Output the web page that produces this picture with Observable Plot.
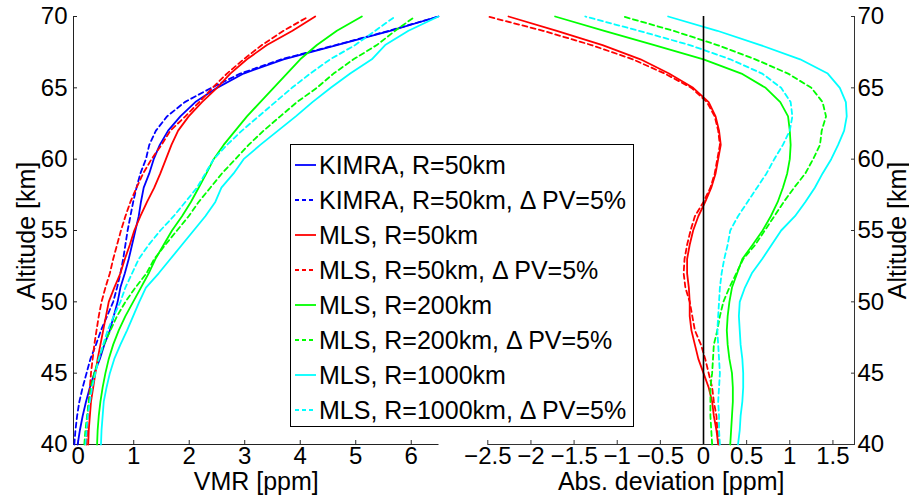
<!DOCTYPE html>
<html><head><meta charset="utf-8">
<script src="https://cdn.jsdelivr.net/npm/d3@7"></script>
<script src="https://cdn.jsdelivr.net/npm/@observablehq/plot@0.6"></script>
<style>
html,body{margin:0;padding:0;background:#fff;}
#wrap{position:relative;width:909px;height:499px;overflow:hidden;font-family:"Liberation Sans",Arial,Helvetica,sans-serif;}
#left,#right{position:absolute;top:0;}
#left{left:0;}
#right{left:460px;}
svg{overflow:visible;}
#legend{position:absolute;left:290px;top:144px;width:342px;height:281px;border:1px solid #000;background:#fff;box-sizing:content-box;}
.row{position:absolute;left:0;height:35px;display:flex;align-items:center;white-space:nowrap;font-size:25px;color:#000;}
.row svg{margin-left:4px;margin-right:3px;}
</style></head>
<body><div id="wrap"><div id="left"></div><div id="right"></div><div id="legend"></div></div>
<script>
// ---- data ----
const altitude = [40,41,42,43,44,45,46,47,48,49,50,51,52,53,54,55,56,57,58,59,60,61,62,63,64,65,66,67,68,69,70];

// VMR [ppm] (left panel)
const kimra50     = [-0.01,0.03,0.08,0.14,0.21,0.29,0.39,0.47,0.57,0.64,0.71,0.76,0.84,0.91,0.97,1.03,1.09,1.13,1.18,1.28,1.36,1.47,1.62,1.84,2.11,2.50,2.98,3.70,4.66,5.62,6.49];
const kimra50PV   = [-0.07,-0.05,-0.02,0.02,0.08,0.15,0.22,0.32,0.41,0.52,0.63,0.70,0.76,0.81,0.85,0.89,0.94,0.99,1.05,1.12,1.22,1.28,1.40,1.60,1.92,2.40,2.92,3.66,4.64,5.60,6.49];
const mls50       = [0.18,0.19,0.21,0.23,0.27,0.31,0.35,0.40,0.45,0.50,0.55,0.65,0.76,0.84,0.93,1.01,1.12,1.24,1.37,1.48,1.58,1.68,1.80,1.99,2.23,2.50,2.74,3.04,3.40,3.86,4.27];
const mls50PV     = [0.15,0.16,0.17,0.19,0.21,0.23,0.26,0.29,0.33,0.37,0.42,0.49,0.57,0.63,0.70,0.77,0.85,0.94,1.05,1.17,1.32,1.50,1.66,1.93,2.18,2.42,2.68,2.98,3.31,3.70,4.15];
const mls200      = [0.34,0.35,0.37,0.40,0.44,0.49,0.55,0.63,0.73,0.85,0.99,1.13,1.27,1.39,1.54,1.69,1.87,2.03,2.17,2.31,2.44,2.62,2.83,3.04,3.28,3.52,3.76,4.00,4.30,4.66,5.11];
const mls200PV    = [0.11,0.13,0.16,0.19,0.23,0.29,0.37,0.46,0.58,0.70,0.85,1.03,1.23,1.37,1.57,1.78,1.99,2.17,2.38,2.59,2.83,3.07,3.34,3.64,3.94,4.30,4.60,4.96,5.38,5.71,6.07];
const mls1000     = [0.41,0.42,0.44,0.46,0.51,0.57,0.65,0.76,0.88,0.99,1.10,1.22,1.45,1.66,1.87,2.08,2.29,2.47,2.58,2.80,2.98,3.28,3.60,3.92,4.22,4.55,4.90,5.29,5.53,5.95,6.49];
const mls1000PV   = [0.13,0.15,0.17,0.21,0.25,0.31,0.37,0.45,0.53,0.64,0.76,0.85,0.97,1.09,1.27,1.48,1.72,1.93,2.14,2.29,2.44,2.68,2.95,3.25,3.55,3.85,4.18,4.54,4.99,5.35,5.71];

// Abs. deviation [ppm] (right panel)
const dev50       = [0.17,0.15,0.12,0.10,0.06,0.00,-0.06,-0.10,-0.14,-0.16,-0.16,-0.17,-0.19,-0.19,-0.16,-0.12,-0.06,0.02,0.09,0.14,0.17,0.20,0.18,0.14,0.06,-0.12,-0.40,-0.73,-1.17,-1.70,-2.26];
const dev50PV     = [0.18,0.16,0.15,0.12,0.10,0.06,0.02,-0.03,-0.10,-0.13,-0.16,-0.21,-0.23,-0.22,-0.19,-0.15,-0.10,0.00,0.08,0.13,0.16,0.19,0.17,0.13,0.04,-0.14,-0.45,-0.82,-1.30,-1.86,-2.50];
const dev200      = [0.31,0.32,0.33,0.34,0.34,0.33,0.30,0.28,0.27,0.28,0.30,0.33,0.39,0.45,0.57,0.685,0.78,0.86,0.92,0.97,1.00,1.01,1.00,0.98,0.89,0.72,0.44,0.00,-0.57,-1.15,-1.72];
const dev200PV    = [0.10,0.09,0.08,0.08,0.08,0.10,0.11,0.12,0.16,0.19,0.23,0.30,0.38,0.46,0.60,0.71,0.82,0.93,1.05,1.18,1.27,1.35,1.37,1.42,1.38,1.25,0.98,0.60,0.16,-0.35,-0.93];
const dev1000     = [0.40,0.42,0.43,0.45,0.46,0.46,0.45,0.43,0.42,0.41,0.42,0.48,0.56,0.68,0.79,0.90,1.06,1.18,1.29,1.38,1.48,1.56,1.63,1.66,1.65,1.58,1.44,1.12,0.66,0.16,-0.41];
const dev1000PV   = [0.19,0.18,0.18,0.17,0.18,0.19,0.18,0.17,0.16,0.17,0.18,0.19,0.21,0.24,0.28,0.31,0.40,0.51,0.62,0.73,0.82,0.92,1.00,1.03,1.01,0.90,0.68,0.31,-0.16,-0.75,-1.37];

const seriesNames = ["KIMRA, R=50km","KIMRA, R=50km, \u0394 PV=5%","MLS, R=50km","MLS, R=50km, \u0394 PV=5%","MLS, R=200km","MLS, R=200km, \u0394 PV=5%","MLS, R=1000km","MLS, R=1000km, \u0394 PV=5%"];
const seriesColors = ["#0000ff","#0000ff","#ff0000","#ff0000","#00ff00","#00ff00","#00ffff","#00ffff"];
const seriesDashed = [false,true,false,true,false,true,false,true];
const vmrSeries = [kimra50,kimra50PV,mls50,mls50PV,mls200,mls200PV,mls1000,mls1000PV];
const devSeries = [null,null,dev50,dev50PV,dev200,dev200PV,dev1000,dev1000PV];

const vmrDomain = [-0.085, 6.5];
const vmrTicks = [0,1,2,3,4,5,6];
const devDomain = [-2.5, 1.75];
const devTicks = [-2.5,-2,-1.5,-1,-0.5,0,0.5,1,1.5];
const altDomain = [40, 70];
const altTicks = [40,45,50,55,60,65,70];
const xLabelLeft = "VMR [ppm]";
const xLabelRight = "Abs. deviation [ppm]";
const yLabel = "Altitude [km]";

// ---- drawing ----
const font = "Liberation Sans, Arial, Helvetica, sans-serif";
const style = {fontFamily: font, fontSize: "24px", color: "#000", background: "transparent", overflow: "visible"};
const dash = "5,3.5";
const fmt = d => (d < 0 ? "\u2212" : "") + String(Math.abs(d));

function lineMarks(list) {
  const marks = [];
  list.forEach((vals, k) => {
    if (!vals) return;
    const rows = altitude.map((a, i) => ({alt: a, v: vals[i]}));
    marks.push(Plot.line(rows, {x: "v", y: "alt", stroke: seriesColors[k], strokeWidth: 1.8,
      strokeDasharray: seriesDashed[k] ? dash : null}));
  });
  return marks;
}

const leftAxis = "#222";
const left = Plot.plot({
  width: 460, height: 499,
  marginLeft: 73, marginRight: 21.5, marginTop: 16, marginBottom: 55,
  style,
  x: {domain: vmrDomain, label: null},
  y: {domain: altDomain, label: null},
  marks: [
    Plot.ruleX([vmrDomain[0]], {stroke: leftAxis, strokeWidth: 1}),
    Plot.ruleY([altDomain[0]], {stroke: leftAxis, strokeWidth: 1}),
    Plot.axisX(vmrTicks, {anchor: "bottom", tickSize: -4, tickPadding: 6.5, tickFormat: fmt, stroke: leftAxis, fill: "#000", label: null, fontSize: 24}),
    Plot.axisY(altTicks, {anchor: "left", tickSize: -4, tickPadding: 10, tickFormat: fmt, stroke: leftAxis, fill: "#000", label: null, fontSize: 24}),
    ...lineMarks(vmrSeries),
    Plot.text([xLabelLeft], {text: d => d, frameAnchor: "bottom", dy: 37, fontSize: 25, fill: "#000", lineAnchor: "middle", textAnchor: "middle"}),
    Plot.text([yLabel], {text: d => d, frameAnchor: "left", dx: -46.5, rotate: -90, fontSize: 25, fill: "#000", lineAnchor: "middle", textAnchor: "middle"})
  ]
});
document.getElementById("left").appendChild(left);

const rightAxis = "#333";
const right = Plot.plot({
  width: 449, height: 499,
  marginLeft: 27.3, marginRight: 55, marginTop: 16, marginBottom: 55,
  style,
  x: {domain: devDomain, label: null},
  y: {domain: altDomain, label: null},
  marks: [
    Plot.ruleX([devDomain[1]], {stroke: rightAxis, strokeWidth: 1}),
    Plot.ruleY([altDomain[0]], {stroke: rightAxis, strokeWidth: 1}),
    Plot.axisX(devTicks, {anchor: "bottom", tickSize: -4, tickPadding: 6.5, tickFormat: fmt, stroke: rightAxis, fill: "#000", label: null, fontSize: 24}),
    Plot.axisY(altTicks, {anchor: "right", tickSize: -4, tickPadding: 7, tickFormat: fmt, stroke: rightAxis, fill: "#000", label: null, fontSize: 24}),
    ...lineMarks(devSeries),
    Plot.ruleX([0], {stroke: "#000", strokeWidth: 1.6}),
    Plot.text([xLabelRight], {text: d => d, frameAnchor: "bottom", dy: 37, fontSize: 25, fill: "#000", lineAnchor: "middle", textAnchor: "middle"}),
    Plot.text([yLabel], {text: d => d, frameAnchor: "right", dx: 43, rotate: -90, fontSize: 25, fill: "#000", lineAnchor: "middle", textAnchor: "middle"})
  ]
});
document.getElementById("right").appendChild(right);

// legend
const legend = document.getElementById("legend");
seriesNames.forEach((name, k) => {
  const row = document.createElement("div");
  row.className = "row";
  row.style.top = (165 + 35 * k - 145 - 17.5) + "px";
  const sw = d3.create("svg").attr("width", 21).attr("height", 6);
  sw.append("line").attr("x1", 0).attr("x2", 21).attr("y1", 3).attr("y2", 3)
    .attr("stroke", seriesColors[k]).attr("stroke-width", 1.8)
    .attr("stroke-dasharray", seriesDashed[k] ? "4,3" : null);
  row.appendChild(sw.node());
  const t = document.createElement("span");
  t.textContent = name;
  row.appendChild(t);
  legend.appendChild(row);
});
</script>
</body></html>
